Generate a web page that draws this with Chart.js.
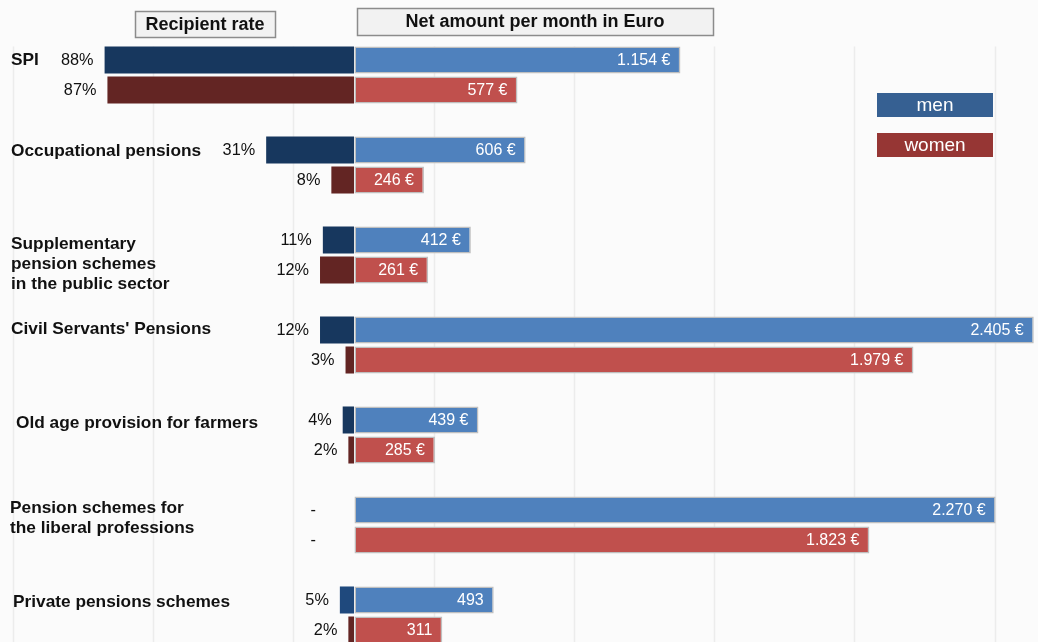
<!DOCTYPE html>
<html>
<head>
<meta charset="utf-8">
<script src="https://cdn.jsdelivr.net/npm/chart.js@4/dist/chart.umd.min.js"></script>
<style>
  html, body { margin: 0; padding: 0; overflow: hidden; background: #fbfbfb; }
  #wrap { position: relative; width: 1038px; height: 690px; }
</style>
</head>
<body>
<div id="wrap"><canvas id="c" width="1038" height="690"></canvas></div>
<script>
// Pension schemes: recipient rate (%) and net amount per month (€), by sex
const categories = [
  'SPI',
  'Occupational pensions',
  ['Supplementary', 'pension schemes', 'in the public sector'],
  "Civil Servants' Pensions",
  'Old age provision for farmers',
  ['Pension schemes for', 'the liberal professions'],
  'Private pensions schemes'
];
const rateMen     = [88, 31, 11, 12, 4, null, 5];
const rateWomen   = [87, 8, 12, 3, 2, null, 2];
const amountMen   = [1154, 606, 412, 2405, 439, 2270, 493];
const amountWomen = [577, 246, 261, 1979, 285, 1823, 311];
const amountSuffix = [' €', ' €', ' €', ' €', ' €', ' €', ''];
const seriesNames = ['men', 'women'];
const headerTexts = ['Recipient rate', 'Net amount per month in Euro'];

// Layout and styling
const FONT = '"Liberation Sans", Arial, Helvetica, sans-serif';
const labelX  = [11, 11, 11, 11, 16, 10, 13];
const labelDy = [-15, -14, -11, -16, -12, -17, -13];
const LINE_H = 20;
const legendColors = ['#366092', '#963634'];

function fmtThousands(n) {
  return String(n).replace(/\B(?=(\d{3})+(?!\d))/g, '.');
}

const decorPlugin = {
  id: 'decor',
  beforeDatasetsDraw(chart) {
    const ctx = chart.ctx;
    const g = chart.scales.xg;
    const first = chart.getDatasetMeta(2).data[0];
    const top = first.y - first.height / 2;
    ctx.save();
    ctx.strokeStyle = '#ececec';
    ctx.lineWidth = 1.5;
    g.ticks.forEach(t => {
      const px = Math.round(g.getPixelForValue(t.value)) + 0.5;
      ctx.beginPath();
      ctx.moveTo(px, top);
      ctx.lineTo(px, chart.chartArea.bottom);
      ctx.stroke();
    });
    ctx.restore();
  },
  afterDatasetsDraw(chart) {
    const ctx = chart.ctx;
    const y = chart.scales.y;
    const xr = chart.scales.xr;
    const zero = xr.getPixelForValue(0);
    ctx.save();
    ctx.textBaseline = 'middle';

    // recipient-rate labels, left of the dark bars
    ctx.font = '16.3px ' + FONT;
    ctx.fillStyle = '#111';
    ctx.textAlign = 'right';
    [0, 1].forEach(di => {
      const ds = chart.data.datasets[di];
      chart.getDatasetMeta(di).data.forEach((el, i) => {
        const v = ds.data[i];
        if (v === null || v === undefined) {
          ctx.fillText('-', zero - 38, el.y + 1);
        } else {
          const left = Math.min(el.x, el.base);
          ctx.fillText(v + '%', left - 11, el.y + 1);
        }
      });
    });

    // amount labels, inside the bars
    ctx.font = '16px ' + FONT;
    ctx.fillStyle = '#ffffff';
    [2, 3].forEach(di => {
      const ds = chart.data.datasets[di];
      chart.getDatasetMeta(di).data.forEach((el, i) => {
        const v = ds.data[i];
        const right = Math.max(el.x, el.base);
        ctx.fillText(fmtThousands(v) + amountSuffix[i], right - 10, el.y + 1);
      });
    });

    // category labels
    ctx.font = 'bold 17.3px ' + FONT;
    ctx.fillStyle = '#111';
    ctx.textAlign = 'left';
    categories.forEach((lab, i) => {
      const lines = Array.isArray(lab) ? lab : [lab];
      const cy = y.getPixelForValue(i) + labelDy[i];
      lines.forEach((ln, k) => ctx.fillText(ln, labelX[i], cy + k * LINE_H));
    });

    // legend boxes
    ctx.font = '19px ' + FONT;
    ctx.textAlign = 'center';
    seriesNames.forEach((name, k) => {
      const bx = 877, by = 93 + k * 40, bw = 116, bh = 24;
      ctx.fillStyle = legendColors[k];
      ctx.fillRect(bx, by, bw, bh);
      ctx.fillStyle = '#ffffff';
      ctx.fillText(name, bx + bw / 2, by + bh / 2 + 1);
    });

    // column headers
    const boxes = [
      { x: 135, y: 11, w: 140, h: 26 },
      { x: 357, y: 8, w: 356, h: 27 }
    ];
    ctx.font = 'bold 18px ' + FONT;
    boxes.forEach((b, k) => {
      ctx.fillStyle = '#f2f2f2';
      ctx.fillRect(b.x, b.y, b.w, b.h);
      ctx.strokeStyle = '#8c8c8c';
      ctx.lineWidth = 1.5;
      ctx.strokeRect(b.x + 0.5, b.y + 0.5, b.w, b.h);
      ctx.fillStyle = '#111';
      ctx.fillText(headerTexts[k], b.x + b.w / 2, b.y + b.h / 2 + 1);
    });
    ctx.restore();
  }
};

const barCommon = { categoryPercentage: 0.667, barPercentage: 0.9 };

new Chart(document.getElementById('c'), {
  type: 'bar',
  data: {
    labels: categories,
    datasets: [
      Object.assign({ label: seriesNames[0], data: rateMen, xAxisID: 'xr', stack: 'men',
        backgroundColor: ['#17375E', '#17375E', '#17375E', '#17375E', '#17375E', '#17375E', '#1F497D'],
        borderWidth: 0 }, barCommon),
      Object.assign({ label: seriesNames[1], data: rateWomen, xAxisID: 'xr', stack: 'women',
        backgroundColor: '#632523', borderWidth: 0 }, barCommon),
      Object.assign({ label: seriesNames[0], data: amountMen, xAxisID: 'xa', stack: 'men',
        backgroundColor: '#4F81BD', borderColor: '#BFBFBF', borderWidth: 1.5, borderSkipped: false }, barCommon),
      Object.assign({ label: seriesNames[1], data: amountWomen, xAxisID: 'xa', stack: 'women',
        backgroundColor: '#C0504D', borderColor: '#BFBFBF', borderWidth: 1.5, borderSkipped: false }, barCommon)
    ]
  },
  options: {
    indexAxis: 'y',
    responsive: false,
    animation: false,
    layout: { padding: { top: 30, bottom: 30, left: 0, right: 0 } },
    plugins: { legend: { display: false }, tooltip: { enabled: false } },
    scales: {
      y: { type: 'category', display: false, offset: true },
      xa: { type: 'linear', axis: 'x', position: 'bottom', display: false, min: -1255, max: 2420 },
      xr: { type: 'linear', axis: 'x', position: 'bottom', display: false, reverse: true, min: -241.3, max: 124.9 },
      xg: { type: 'linear', axis: 'x', position: 'top', display: false, min: -0.093, max: 7.31,
        ticks: { stepSize: 1, includeBounds: false } }
    }
  },
  plugins: [decorPlugin]
});
</script>
</body>
</html>
